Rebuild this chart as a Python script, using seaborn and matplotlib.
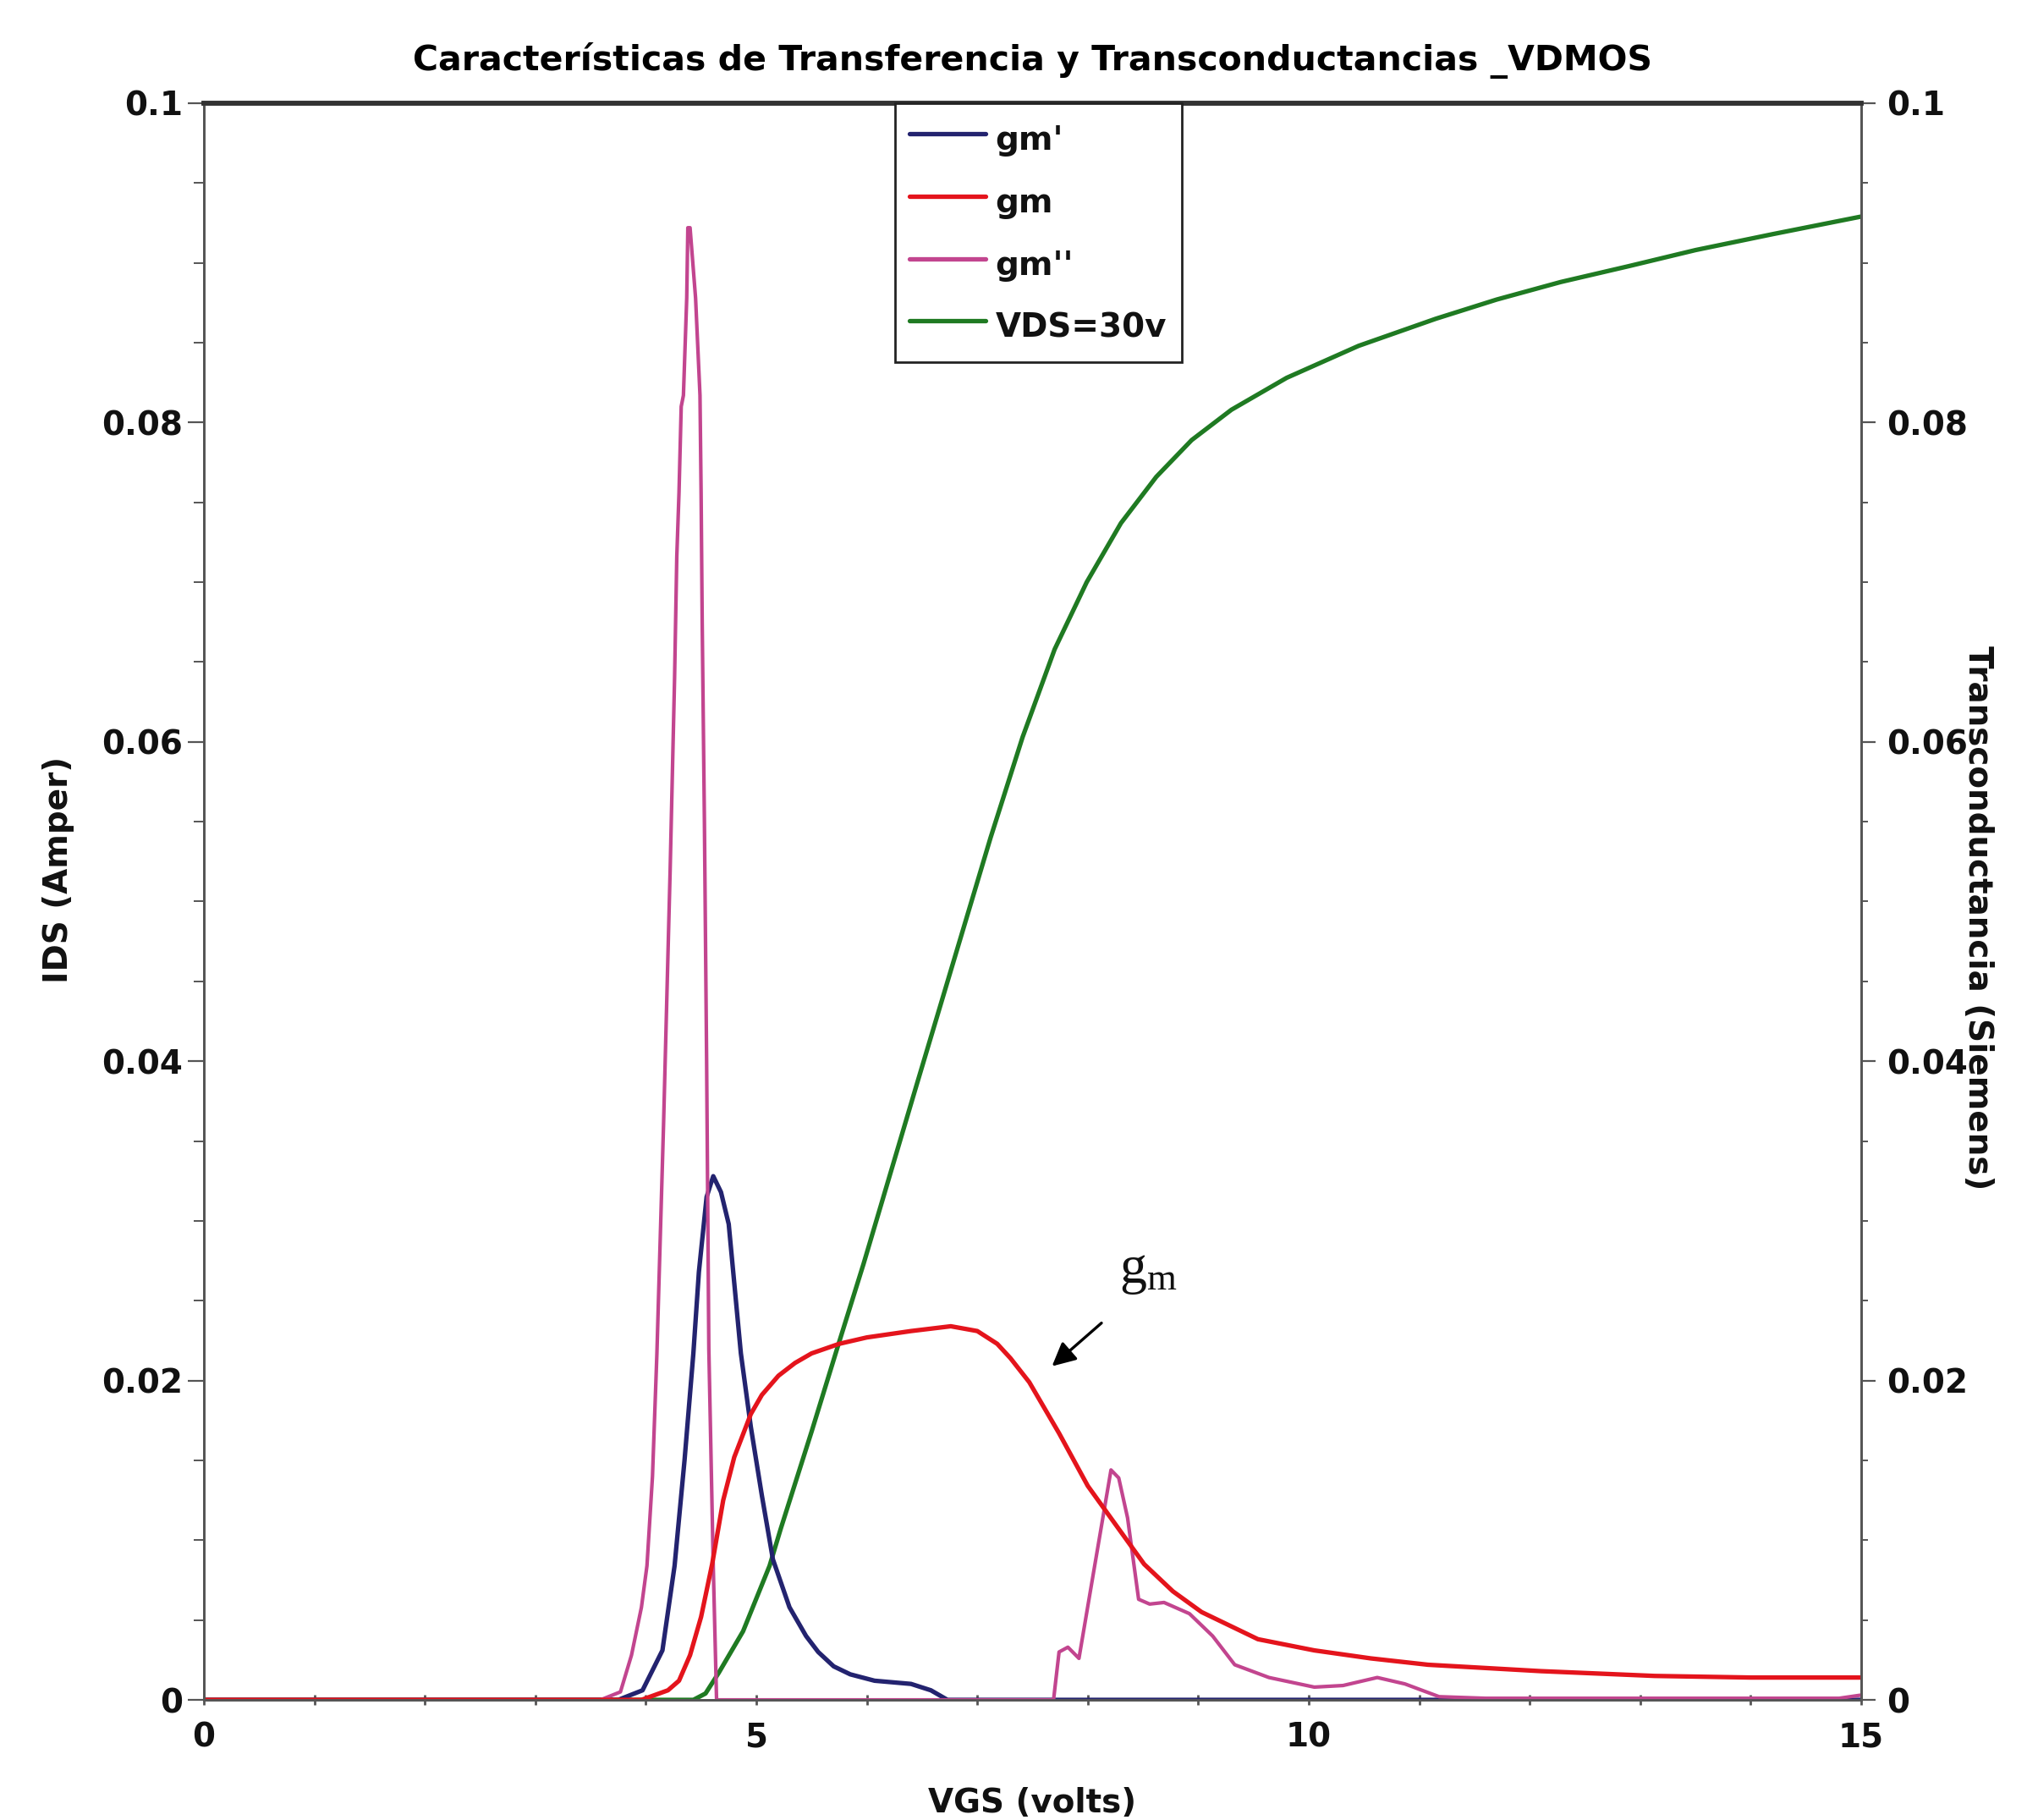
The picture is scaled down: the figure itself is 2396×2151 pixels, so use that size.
import matplotlib
matplotlib.use("Agg")
import matplotlib.pyplot as plt
import seaborn as sns
import pandas as pd
from matplotlib.ticker import MultipleLocator
from matplotlib.lines import Line2D

# ---------------- data ----------------
title = "Características de Transferencia y Transconductancias _VDMOS"
x_label = "VGS (volts)"
y_label_left = "IDS (Amper)"
y_label_right = "Transconductancia (Siemens)"
series_names = ["gm'", "gm", "gm''", "VDS=30v"]

x_ticks = [0, 5, 10, 15]
y_ticks = [0, 0.02, 0.04, 0.06, 0.08, 0.1]
y_tick_labels = ["0", "0.02", "0.04", "0.06", "0.08", "0.1"]

# IDS at VDS = 30 V (left axis)
vgs_ids = [0, 4.43, 4.54, 4.66, 4.88, 5.12, 5.22, 5.5, 5.74, 5.97, 6.15, 6.45,
           6.8, 7.12, 7.41, 7.7, 7.99, 8.3, 8.62, 8.94, 9.3, 9.8, 10.45, 11.15,
           11.7, 12.28, 12.9, 13.5, 14.2, 15]
ids = [0, 0, 0.0004, 0.0017, 0.0043, 0.0084, 0.0107, 0.0168, 0.0222, 0.0273,
       0.0315, 0.0385, 0.0466, 0.0540, 0.0603, 0.0658, 0.0700, 0.0737, 0.0766,
       0.0789, 0.0808, 0.0828, 0.0848, 0.0865, 0.0877, 0.0888, 0.0898, 0.0908,
       0.0918, 0.0929]

# gm (red)
vgs_gm = [0, 3.96, 4.2, 4.3, 4.4, 4.5, 4.6, 4.7, 4.8, 4.95, 5.05, 5.2, 5.35,
          5.5, 5.75, 6.0, 6.4, 6.76, 7.0, 7.18, 7.3, 7.47, 7.74, 8.0, 8.26,
          8.51, 8.77, 9.03, 9.54, 10.05, 10.56, 11.08, 12.1, 13.13, 14.0, 15]
gm = [0, 0, 0.0006, 0.0012, 0.0028, 0.0052, 0.0085, 0.0125, 0.0152, 0.0179,
      0.0191, 0.0203, 0.0211, 0.0217, 0.0223, 0.0227, 0.0231, 0.0234, 0.0231,
      0.0223, 0.0214, 0.0199, 0.0167, 0.0134, 0.0109, 0.0085, 0.0068, 0.0055,
      0.0038, 0.0031, 0.0026, 0.0022, 0.0018, 0.0015, 0.0014, 0.0014]

# gm' (navy)
vgs_gm1 = [0, 3.75, 3.97, 4.15, 4.26, 4.35, 4.43, 4.48, 4.55, 4.61, 4.68, 4.75,
           4.86, 4.95, 5.05, 5.15, 5.3, 5.45, 5.56, 5.7, 5.85, 6.07, 6.4, 6.58,
           6.73, 15]
gm1 = [0, 0, 0.0006, 0.0031, 0.0084, 0.0150, 0.0217, 0.0268, 0.0315, 0.0328,
       0.0318, 0.0298, 0.0217, 0.0171, 0.0128, 0.0088, 0.0058, 0.0040, 0.0030,
       0.0021, 0.0016, 0.0012, 0.0010, 0.0006, 0, 0]

# gm'' (magenta)
vgs_gm2 = [0, 3.59, 3.77, 3.87, 3.96, 4.01, 4.06, 4.10, 4.16, 4.22, 4.26, 4.28,
           4.30, 4.32, 4.34, 4.37, 4.38, 4.40, 4.45, 4.49, 4.50, 4.51, 4.53,
           4.55, 4.57, 4.61, 4.64, 7.69, 7.74, 7.82, 7.92, 8.05, 8.21, 8.28,
           8.36, 8.46, 8.56, 8.69, 8.92, 9.13, 9.33, 9.64, 10.05, 10.31, 10.62,
           10.87, 11.18, 11.6, 14.8, 15]
gm2 = [0, 0, 0.0005, 0.0028, 0.0058, 0.0084, 0.014, 0.0217, 0.036, 0.052,
       0.064, 0.0716, 0.0756, 0.081, 0.0817, 0.0878, 0.0922, 0.0922, 0.0878,
       0.0817, 0.0756, 0.0675, 0.055, 0.040, 0.022, 0.0084, 0, 0, 0.0030,
       0.0033, 0.0026, 0.0079, 0.0144, 0.0139, 0.0114, 0.0063, 0.0060, 0.0061,
       0.0054, 0.0040, 0.0022, 0.0014, 0.0008, 0.0009, 0.0014, 0.0010, 0.0002,
       0.0001, 0.0001, 0.0003]

# ---------------- styling ----------------
c_gm1 = "#23236f"
c_gm = "#e4141c"
c_gm2 = "#c2458f"
c_ids = "#1f7a22"
ink = "#111111"

sns.set_style("ticks")
plt.rcParams["font.family"] = ["DejaVu Sans"]
plt.rcParams["font.weight"] = "bold"
plt.rcParams["axes.labelweight"] = "bold"
plt.rcParams["text.color"] = ink
plt.rcParams["axes.labelcolor"] = ink
plt.rcParams["xtick.labelcolor"] = ink
plt.rcParams["ytick.labelcolor"] = ink

fig = plt.figure(figsize=(23.96, 21.51), dpi=100)
ax = fig.add_axes([0.1006, 0.066, 0.8176, 0.8773])
ax2 = ax.twinx()

lw = 3.8
sns.lineplot(x=vgs_ids, y=ids, ax=ax, color=c_ids, lw=lw, estimator=None,
             sort=False, legend=False)
sns.lineplot(x=vgs_gm1, y=gm1, ax=ax2, color=c_gm1, lw=lw, estimator=None,
             sort=False, legend=False)
sns.lineplot(x=vgs_gm2, y=gm2, ax=ax2, color=c_gm2, lw=lw * 0.8, estimator=None,
             sort=False, legend=False)
sns.lineplot(x=vgs_gm, y=gm, ax=ax2, color=c_gm, lw=lw, estimator=None,
             sort=False, legend=False)

for a in (ax, ax2):
    a.set_xlim(0, 15)
    a.set_ylim(0, 0.1)
    a.set_yticks(y_ticks)
    a.set_yticklabels(y_tick_labels)
    a.yaxis.set_minor_locator(MultipleLocator(0.005))
    for s in a.spines.values():
        s.set_color("#555555")
        s.set_linewidth(2)
    a.spines["top"].set_color("#333333")
    a.spines["top"].set_linewidth(4)

ax.set_xticks(x_ticks)
ax.set_xticklabels([str(v) for v in x_ticks])
ax.xaxis.set_minor_locator(MultipleLocator(1))
ax.tick_params(axis="x", which="both", direction="inout", length=8, width=2,
               color="#555555", labelsize=28, pad=14)
ax.tick_params(axis="y", which="major", direction="out", length=14, width=1.6,
               color="#555555", labelsize=28, pad=4)
ax.tick_params(axis="y", which="minor", direction="out", length=9, width=1.4,
               color="#555555")
ax2.tick_params(axis="y", which="major", direction="out", length=12, width=1.6,
                color="#555555", labelsize=28, pad=10)
ax2.tick_params(axis="y", which="minor", direction="out", length=6, width=1.4,
                color="#555555")
for lab in ax.get_xticklabels() + ax.get_yticklabels() + ax2.get_yticklabels():
    lab.set_fontweight("bold")

ax.set_xlabel(x_label, fontsize=28, fontweight="bold", va="center")
ax.xaxis.set_label_coords(0.5, -0.0647)
ax.set_ylabel(y_label_left, fontsize=28, fontweight="bold", va="center")
ax.yaxis.set_label_coords(-0.0878, 0.52)
ax2.set_ylabel(y_label_right, fontsize=28, fontweight="bold", rotation=270,
               va="center")
ax2.yaxis.set_label_coords(1.0704, 0.49)

ax.set_title(title, fontsize=29.5, fontweight="bold", pad=28, color="black")

# annotation g_m with arrow
ax2.annotate("", xy=(7.66, 0.0208), xytext=(8.14, 0.0237),
             arrowprops=dict(arrowstyle="-|>", color="black", lw=2.4,
                             mutation_scale=42))
ax2.text(8.55, 0.0268, r"$\mathregular{g_m}$", fontsize=46,
         fontweight="normal", family=["Liberation Serif", "DejaVu Serif"],
         ha="center", va="center", color=ink)

handles = [Line2D([], [], color=c_gm1, lw=lw),
           Line2D([], [], color=c_gm, lw=lw),
           Line2D([], [], color=c_gm2, lw=lw),
           Line2D([], [], color=c_ids, lw=lw)]
leg = ax2.legend(handles, series_names, loc="upper left",
                 bbox_to_anchor=(0.417, 1.0), borderaxespad=0,
                 frameon=True, fancybox=False, framealpha=1,
                 edgecolor="#222222", handlelength=2.3,
                 handletextpad=0.3, labelspacing=0.61, borderpad=0.45,
                 handleheight=1.6,
                 prop={"weight": "bold", "size": 28})
leg.get_frame().set_linewidth(2)

fig.savefig("out.png", dpi=100, facecolor="white")
